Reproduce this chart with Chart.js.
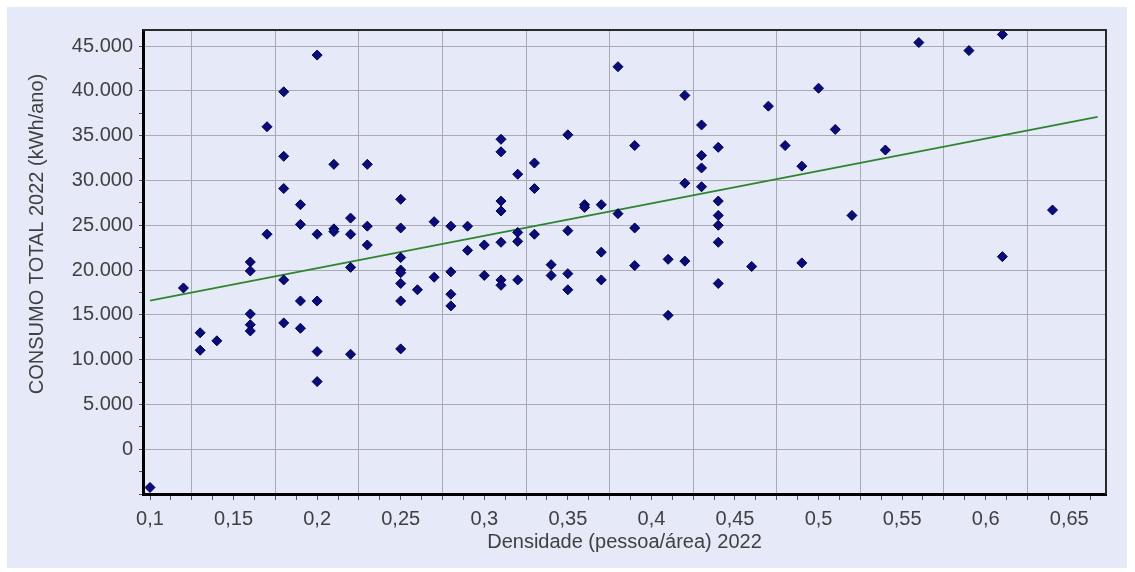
<!DOCTYPE html>
<html>
<head>
<meta charset="utf-8">
<script src="https://cdn.jsdelivr.net/npm/chart.js@4.4.1/dist/chart.umd.min.js"></script>
<style>
  html, body { margin: 0; padding: 0; background: #fff; }
  canvas { display: block; }
</style>
</head>
<body>
<canvas id="chart" width="1135" height="572"></canvas>
<script>
// densidade (x) e consumo (y)
const densidade = [
  0.10,
  0.12,
  0.13, 0.13,
  0.14,
  0.16, 0.16, 0.16, 0.16, 0.16,
  0.17, 0.17,
  0.18, 0.18, 0.18, 0.18, 0.18,
  0.19, 0.19, 0.19, 0.19,
  0.20, 0.20, 0.20, 0.20, 0.20,
  0.21, 0.21, 0.21,
  0.22, 0.22, 0.22, 0.22,
  0.23, 0.23, 0.23,
  0.25, 0.25, 0.25, 0.25, 0.25, 0.25, 0.25, 0.25,
  0.26,
  0.27, 0.27,
  0.28, 0.28, 0.28, 0.28,
  0.29, 0.29,
  0.30, 0.30,
  0.31, 0.31, 0.31, 0.31, 0.31, 0.31, 0.31,
  0.32, 0.32, 0.32, 0.32,
  0.33, 0.33, 0.33,
  0.34, 0.34,
  0.35, 0.35, 0.35, 0.35,
  0.36, 0.36,
  0.37, 0.37, 0.37,
  0.38, 0.38,
  0.39, 0.39, 0.39,
  0.41, 0.41,
  0.42, 0.42, 0.42,
  0.43, 0.43, 0.43, 0.43,
  0.44, 0.44, 0.44, 0.44, 0.44, 0.44,
  0.46, 0.47, 0.48,
  0.49, 0.49,
  0.50, 0.51, 0.52, 0.54, 0.56, 0.59,
  0.61, 0.61,
  0.64
];
const consumo = [
  -4270,
  18000,
  13000, 11050,
  12100,
  20900, 19900, 15100, 13900, 13200,
  36000, 24000,
  39900, 32700, 29100, 18900, 14100,
  27300, 25100, 16550, 13500,
  44000, 24000, 16550, 10900, 7550,
  31800, 24600, 24300,
  25800, 24000, 20300, 10600,
  31800, 24900, 22800,
  27900, 24700, 21400, 20000, 19700, 18500, 16550, 11200,
  17800,
  25400, 19200,
  24900, 19800, 17300, 16000,
  24900, 22200,
  22800, 19400,
  34600, 33200, 27700, 26600, 23100, 18900, 18300,
  30700, 24200, 23200, 18900,
  31950, 29100, 24000,
  20600, 19400,
  35100, 24400, 19600, 17800,
  27300, 27000,
  27300, 22000, 18900,
  42700, 26300,
  33900, 24700, 20500,
  21200, 14950,
  39500, 29700, 21000,
  36200, 32800, 31400, 29300,
  33700, 27700, 26100, 25000, 23100, 18500,
  20400, 38300, 33900,
  31600, 20800,
  40300, 35700, 26100, 33400, 45400, 44500,
  46300, 21500,
  26700
];

// linha de tendência (extremos)
const trendX = [0.1, 0.667];
const trendY = [16600, 37100];

const xTickValues = [0.1, 0.15, 0.2, 0.25, 0.3, 0.35, 0.4, 0.45, 0.5, 0.55, 0.6, 0.65];
const xTickLabels = ['0,1', '0,15', '0,2', '0,25', '0,3', '0,35', '0,4', '0,45', '0,5', '0,55', '0,6', '0,65'];
const yTickValues = [0, 5000, 10000, 15000, 20000, 25000, 30000, 35000, 40000, 45000];
const yTickLabels = ['0', '5.000', '10.000', '15.000', '20.000', '25.000', '30.000', '35.000', '40.000', '45.000'];

const xTitle = 'Densidade (pessoa/área) 2022';
const yTitle = 'CONSUMO TOTAL 2022 (kWh/ano)';

// marcas menores dos eixos
const xMinor = [];
for (let k = 0; k <= 45; k++) xMinor.push(+(0.1 + k * 0.0125).toFixed(4));
const yMinor = [];
for (let v = -5000; v <= 45000; v += 2500) yMinor.push(v);

const fontFamily = '"Liberation Sans", Arial, sans-serif';
const fontSize = 20;
const textColor = '#404040';
const gridColor = '#a9a9b6';

const frame = {
  id: 'frame',
  beforeDraw(chart) {
    const ctx = chart.ctx;
    ctx.save();
    ctx.fillStyle = '#e6e9f8';
    ctx.fillRect(7, 7, 1120, 561);
    ctx.restore();
  },
  afterDraw(chart) {
    const ctx = chart.ctx;
    const a = chart.chartArea;
    ctx.save();
    ctx.strokeStyle = '#2a2a2a';
    ctx.lineWidth = 2;
    ctx.beginPath();
    ctx.moveTo(a.left, a.top);
    ctx.lineTo(a.right, a.top);
    ctx.lineTo(a.right, a.bottom);
    ctx.stroke();
    ctx.translate(37, 234);
    ctx.rotate(-Math.PI / 2);
    ctx.font = fontSize + 'px ' + fontFamily;
    ctx.fillStyle = textColor;
    ctx.textAlign = 'center';
    ctx.textBaseline = 'middle';
    ctx.fillText(yTitle, 0, 0);
    ctx.restore();
  }
};

new Chart(document.getElementById('chart'), {
  type: 'scatter',
  data: {
    datasets: [
      {
        label: 'Consumo',
        data: densidade.map((x, i) => ({ x: x, y: consumo[i] })),
        pointStyle: 'rectRot',
        pointRadius: 5,
        backgroundColor: '#0b0b7a',
        borderColor: '#00004a',
        borderWidth: 1,
        order: 0
      },
      {
        type: 'line',
        label: 'Tendência',
        data: trendX.map((x, i) => ({ x: x, y: trendY[i] })),
        borderColor: '#2f852f',
        borderWidth: 1.8,
        pointRadius: 0,
        fill: false,
        order: 1
      }
    ]
  },
  options: {
    responsive: false,
    animation: false,
    layout: { padding: { left: 0, right: 29, top: 30, bottom: 0 } },
    plugins: { legend: { display: false }, tooltip: { enabled: false } },
    scales: {
      x: {
        type: 'linear',
        min: 0.0958,
        max: 0.672,
        afterBuildTicks: s => { s.ticks = xMinor.map(v => ({ value: v })); },
        afterFit: s => { s.height = 78; },
        ticks: {
          autoSkip: false,
          maxRotation: 0,
          padding: 7,
          color: textColor,
          font: { family: fontFamily, size: fontSize },
          callback: v => {
            const i = xTickValues.findIndex(t => Math.abs(t - v) < 1e-6);
            return i >= 0 ? xTickLabels[i] : '';
          }
        },
        grid: {
          color: c => (c.index % 4 === 2 ? gridColor : 'rgba(0,0,0,0)'),
          tickColor: '#555',
          tickLength: 6
        },
        border: { color: '#000', width: 3 },
        title: {
          display: true,
          text: xTitle,
          color: textColor,
          font: { family: fontFamily, size: fontSize },
          padding: { top: 0, bottom: 18 }
        }
      },
      y: {
        min: -5000,
        max: 46800,
        afterBuildTicks: s => { s.ticks = yMinor.map(v => ({ value: v })); },
        afterFit: s => { s.width = 143; },
        ticks: {
          autoSkip: false,
          padding: 6,
          color: textColor,
          font: { family: fontFamily, size: fontSize },
          callback: v => {
            const i = yTickValues.indexOf(v);
            return i >= 0 ? yTickLabels[i] : '';
          }
        },
        grid: {
          color: c => (c.tick && c.tick.value % 5000 === 0 && c.tick.value > -5000 ? gridColor : 'rgba(0,0,0,0)'),
          tickColor: '#555',
          tickLength: 4
        },
        border: { color: '#000', width: 3 }
      }
    }
  },
  plugins: [frame]
});
</script>
</body>
</html>
